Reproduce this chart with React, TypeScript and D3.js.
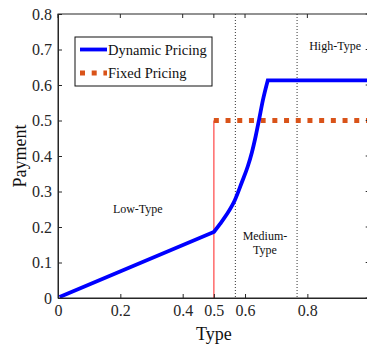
import React, { useRef, useEffect } from "react";
import * as d3 from "d3";

// values
const linearX = [0.005, 0.5];
const linearY = [0.003, 0.186];
const curveX = [0.5, 0.52, 0.541, 0.568, 0.589, 0.609, 0.622, 0.634, 0.645, 0.657, 0.673];
const curveY = [0.186, 0.209, 0.235, 0.277, 0.324, 0.371, 0.41, 0.455, 0.502, 0.556, 0.613];
const plateauX = [0.673, 1];
const plateauY = [0.613, 0.613];
const fixedX = [0.5, 1];
const fixedY = [0.5, 0.5];
const jumpX = [0.5, 0.5];
const jumpY = [0, 0.5];
const boundaries = [0.569, 0.767];
const xTicks = [0, 0.2, 0.4, 0.5, 0.6, 0.8];
const yTicks = [0, 0.1, 0.2, 0.3, 0.4, 0.5, 0.6, 0.7, 0.8];
const regionLabels = [
  { lines: ["Low-Type"], x: 0.256, y: 0.24 },
  { lines: ["Medium-", "Type"], x: 0.664, y: 0.162 },
  { lines: ["High-Type"], x: 0.889, y: 0.7 },
];
const seriesNames = ["Dynamic Pricing", "Fixed Pricing"];

const App = () => {
  const svgRef = useRef<SVGSVGElement>(null);

  useEffect(() => {
    const svg = d3.select(svgRef.current);
    svg.selectAll("*").remove();

    const height = 346;
    const margin = { top: 14, left: 58, bottom: 48 };
    const font = "'Liberation Serif', 'Times New Roman', serif";
    const axisColor = "#262626";

    const x = d3.scaleLinear().domain([0, 1]).range([margin.left, 369.7]);
    const y = d3.scaleLinear().domain([0, 0.8]).range([height - margin.bottom, margin.top]);

    const line = d3
      .line<number[]>()
      .x((d) => x(d[0]))
      .y((d) => y(d[1]));
    const smooth = d3
      .line<number[]>()
      .x((d) => x(d[0]))
      .y((d) => y(d[1]))
      .curve(d3.curveMonotoneX);

    const pts = (xs: number[], ys: number[]) => xs.map((v, i) => [v, ys[i]]);

    // region boundaries
    boundaries.forEach((b) => {
      svg
        .append("line")
        .attr("x1", x(b))
        .attr("x2", x(b))
        .attr("y1", y(0.8))
        .attr("y2", y(0))
        .attr("stroke", "#333")
        .attr("stroke-width", 1)
        .attr("stroke-dasharray", "1,2");
    });

    // red jump line at 0.5
    svg
      .append("path")
      .attr("d", line(pts(jumpX, jumpY)))
      .attr("fill", "none")
      .attr("stroke", "#ff6a6a")
      .attr("stroke-width", 1.5);

    // fixed pricing
    svg
      .append("path")
      .attr("d", line(pts(fixedX, fixedY)))
      .attr("fill", "none")
      .attr("stroke", "#D95319")
      .attr("stroke-width", 5)
      .attr("stroke-dasharray", "5,6.7");

    // dynamic pricing: linear part, convex part, plateau
    const dynPath =
      line(pts(linearX, linearY)) +
      (smooth(pts(curveX, curveY)) || "").replace(/^M/, "L") +
      (line(pts(plateauX, plateauY)) || "").replace(/^M/, "L");
    svg
      .append("path")
      .attr("d", dynPath)
      .attr("fill", "none")
      .attr("stroke", "#0000ff")
      .attr("stroke-width", 3.8)
      .attr("stroke-linejoin", "miter");

    // frame
    svg
      .append("rect")
      .attr("x", x(0))
      .attr("y", y(0.8))
      .attr("width", x(1) - x(0))
      .attr("height", y(0) - y(0.8))
      .attr("fill", "none")
      .attr("stroke", axisColor)
      .attr("stroke-width", 1);

    // x axis
    const xAxis = svg
      .append("g")
      .attr("transform", `translate(0,${y(0)})`)
      .call(d3.axisBottom(x).tickValues(xTicks).tickSizeInner(-4).tickSizeOuter(0).tickPadding(7).tickFormat(d3.format("")));
    xAxis.attr("font-family", null);
    xAxis.select(".domain").attr("stroke", axisColor);
    xAxis.selectAll("line").attr("stroke", axisColor);
    xAxis
      .selectAll("text")
      .style("font-family", font)
      .style("font-size", "16px")
      .attr("fill", axisColor);

    // y axis (left) and mirrored ticks on the right
    const yAxis = svg
      .append("g")
      .attr("transform", `translate(${x(0)},0)`)
      .call(d3.axisLeft(y).tickValues(yTicks).tickSizeInner(-4).tickSizeOuter(0).tickPadding(6).tickFormat(d3.format("")));
    yAxis.attr("font-family", null);
    yAxis.select(".domain").attr("stroke", axisColor);
    yAxis.selectAll("line").attr("stroke", axisColor);
    yAxis
      .selectAll("text")
      .style("font-family", font)
      .style("font-size", "16px")
      .attr("fill", axisColor);

    yTicks.forEach((t) => {
      svg
        .append("line")
        .attr("x1", x(1))
        .attr("x2", x(1) - 4)
        .attr("y1", y(t))
        .attr("y2", y(t))
        .attr("stroke", axisColor);
    });
    xTicks.forEach((t) => {
      svg
        .append("line")
        .attr("x1", x(t))
        .attr("x2", x(t))
        .attr("y1", y(0.8))
        .attr("y2", y(0.8) + 4)
        .attr("stroke", axisColor);
    });

    // axis titles
    svg
      .append("text")
      .attr("x", x(0.5))
      .attr("y", 340)
      .attr("text-anchor", "middle")
      .style("font-family", font)
      .style("font-size", "18px")
      .attr("fill", "#111")
      .text("Type");

    svg
      .append("text")
      .attr("transform", `translate(26,${y(0.4)}) rotate(-90)`)
      .attr("text-anchor", "middle")
      .style("font-family", font)
      .style("font-size", "18px")
      .attr("fill", "#111")
      .text("Payment");

    // region labels
    regionLabels.forEach((r) => {
      r.lines.forEach((s, i) => {
        svg
          .append("text")
          .attr("x", x(r.x))
          .attr("y", y(r.y) + i * 14)
          .attr("text-anchor", "middle")
          .style("font-family", font)
          .style("font-size", "12px")
          .attr("fill", "#111")
          .text(s);
      });
    });

    // legend
    const legend = svg.append("g").attr("transform", "translate(75,37)");
    legend
      .append("rect")
      .attr("width", 137)
      .attr("height", 49)
      .attr("fill", "white")
      .attr("stroke", "#111")
      .attr("stroke-width", 1);
    const legendStyles = [
      { color: "#0000ff", width: 3.8, dash: null },
      { color: "#D95319", width: 5, dash: "5,6.7" },
    ];
    seriesNames.forEach((name, i) => {
      const yy = 12.5 + i * 23.5;
      legend
        .append("line")
        .attr("x1", 5)
        .attr("x2", 32)
        .attr("y1", yy)
        .attr("y2", yy)
        .attr("stroke", legendStyles[i].color)
        .attr("stroke-width", legendStyles[i].width)
        .attr("stroke-dasharray", legendStyles[i].dash);
      legend
        .append("text")
        .attr("x", 33)
        .attr("y", yy + 5)
        .style("font-family", font)
        .style("font-size", "14.5px")
        .attr("fill", "#111")
        .text(name);
    });
  }, []);

  return (
    <svg
      ref={svgRef}
      width={367}
      height={346}
      style={{ position: "absolute", left: 0, top: 0, background: "white" }}
    />
  );
};

export default App;
